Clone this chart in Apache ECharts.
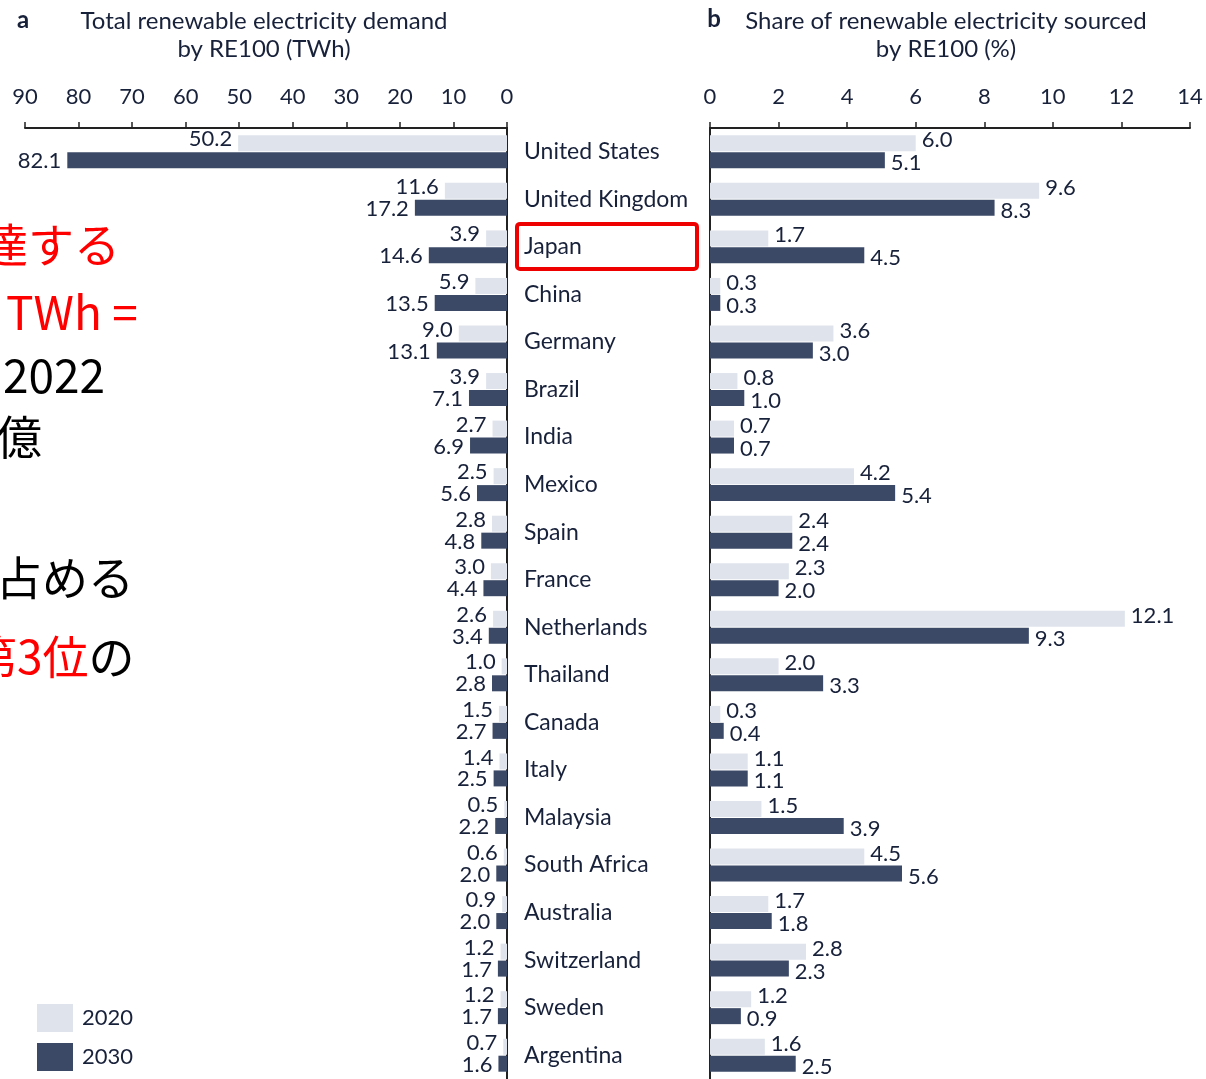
<!DOCTYPE html>
<html><head><meta charset="utf-8">
<script src="https://cdn.jsdelivr.net/npm/echarts@6/dist/echarts.min.js"></script>
<style>html,body{margin:0;padding:0;background:#fff}#c{width:1206px;height:1079px}</style>
</head><body><div id="c"></div>
<script>
const countries = ['United States','United Kingdom','Japan','China','Germany','Brazil','India','Mexico','Spain','France','Netherlands','Thailand','Canada','Italy','Malaysia','South Africa','Australia','Switzerland','Sweden','Argentina'];
const demand2020 = [50.2,11.6,3.9,5.9,9.0,3.9,2.7,2.5,2.8,3.0,2.6,1.0,1.5,1.4,0.5,0.6,0.9,1.2,1.2,0.7];
const demand2030 = [82.1,17.2,14.6,13.5,13.1,7.1,6.9,5.6,4.8,4.4,3.4,2.8,2.7,2.5,2.2,2.0,2.0,1.7,1.7,1.6];
const share2020 = [6.0,9.6,1.7,0.3,3.6,0.8,0.7,4.2,2.4,2.3,12.1,2.0,0.3,1.1,1.5,4.5,1.7,2.8,1.2,1.6];
const share2030 = [5.1,8.3,4.5,0.3,3.0,1.0,0.7,5.4,2.4,2.0,9.3,3.3,0.4,1.1,3.9,5.6,1.8,2.3,0.9,2.5];
const demandAxis = {min:0, max:90, interval:10};
const shareAxis = {min:0, max:14, interval:2};
const years = ['2020','2030'];

const FONT = 'Lato, "Liberation Sans", sans-serif';
const TXT = '#18213a';
const LIGHT = '#dfe3ec';
const DARK = '#3b4966';

const chart = echarts.init(document.getElementById('c'));
const lbl = (pos, dy) => ({show:true, position:pos, distance:6, offset:[0,dy], color:TXT, fontFamily:FONT, fontSize:22,
  formatter: p => p.value.toFixed(1)});
const axisLineStyle = {show:true, lineStyle:{color:'#222', width:2}};

chart.setOption({
  animation:false,
  textStyle:{fontFamily:FONT},
  legend:{data:years, orient:'vertical', left:37, top:1004, padding:0, itemWidth:36, itemHeight:28, itemGap:11, icon:'rect',
    textStyle:{color:TXT, fontSize:22, fontFamily:FONT, padding:[0,0,0,4]}},
  grid:[{left:25, top:128, width:482, height:952},{left:710, top:128, width:480, height:952}],
  xAxis:[
    {gridIndex:0, type:'value', position:'top', inverse:true, min:demandAxis.min, max:demandAxis.max, interval:demandAxis.interval,
     axisLine:axisLineStyle, axisTick:{show:true, length:6, lineStyle:{color:'#222', width:1.5}}, splitLine:{show:false},
     axisLabel:{color:TXT, fontSize:22, margin:20, fontFamily:FONT}},
    {gridIndex:1, type:'value', position:'top', min:shareAxis.min, max:shareAxis.max, interval:shareAxis.interval,
     axisLine:axisLineStyle, axisTick:{show:true, length:6, lineStyle:{color:'#222', width:1.5}}, splitLine:{show:false},
     axisLabel:{color:TXT, fontSize:22, margin:20, fontFamily:FONT}}
  ],
  yAxis:[
    {gridIndex:0, type:'category', data:countries, inverse:true, position:'right',
     axisLine:axisLineStyle, axisTick:{show:false},
     axisLabel:{color:TXT, fontSize:23, margin:17, align:'left', fontFamily:FONT}},
    {gridIndex:1, type:'category', data:countries, inverse:true, position:'left',
     axisLine:axisLineStyle, axisTick:{show:false}, axisLabel:{show:false}}
  ],
  series:[
    {name:'2020', type:'bar', xAxisIndex:0, yAxisIndex:0, data:demand2020, barWidth:16, barGap:'6%', itemStyle:{color:LIGHT}, label:lbl('left',-4)},
    {name:'2030', type:'bar', xAxisIndex:0, yAxisIndex:0, data:demand2030, barWidth:16, barGap:'6%', itemStyle:{color:DARK}, label:lbl('left',1)},
    {name:'2020', type:'bar', xAxisIndex:1, yAxisIndex:1, data:share2020, barWidth:16, barGap:'6%', itemStyle:{color:LIGHT}, label:lbl('right',-3)},
    {name:'2030', type:'bar', xAxisIndex:1, yAxisIndex:1, data:share2030, barWidth:16, barGap:'6%', itemStyle:{color:DARK}, label:lbl('right',3)}
  ]
});

const jy = chart.convertToPixel({yAxisIndex:0}, 'Japan');
const JP = '"Noto Sans CJK JP", sans-serif';
const jpText = (x, y, text, fill) => ({type:'text', x:x, y:y, style:{text:text, fill:fill, font:'46px ' + JP, verticalAlign:'middle'}});
chart.setOption({
  graphic:[
    {type:'text', x:23, y:20, style:{text:'a', font:'bold 24px ' + FONT, fill:TXT, align:'center', verticalAlign:'middle'}},
    {type:'text', x:714, y:19, style:{text:'b', font:'bold 24px ' + FONT, fill:TXT, align:'center', verticalAlign:'middle'}},
    {type:'text', x:264, y:7, style:{text:'Total renewable electricity demand\nby RE100 (TWh)', font:'24px ' + FONT, lineHeight:28, fill:TXT, align:'center'}},
    {type:'text', x:946, y:7, style:{text:'Share of renewable electricity sourced\nby RE100 (%)', font:'24px ' + FONT, lineHeight:28, fill:TXT, align:'center'}},
    {type:'rect', shape:{x:517, y:jy-23, width:180, height:45, r:3}, style:{fill:'none', stroke:'#ee0000', lineWidth:4}},
    jpText(-18, 245, '達する', '#ff0000'),
    jpText(6, 313, 'TWh =', '#ff0000'),
    jpText(3, 376, '2022', '#000'),
    jpText(-4, 437, '億', '#000'),
    jpText(-4, 578, '占める', '#000'),
    {type:'text', x:-29, y:657, style:{text:'{r|第3位}{k|の}', font:'46px ' + JP, verticalAlign:'middle',
      rich:{r:{fill:'#ff0000', font:'46px ' + JP}, k:{fill:'#000', font:'46px ' + JP}}}}
  ]
});
</script></body></html>
